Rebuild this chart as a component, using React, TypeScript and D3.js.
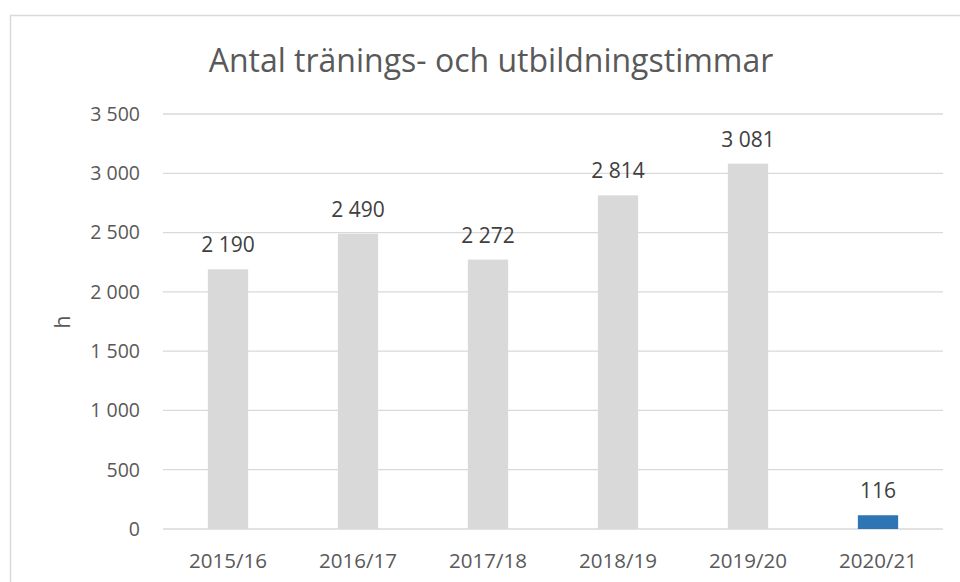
import React from 'react';
import * as d3 from 'd3';

// chart data
const years = ['2015/16', '2016/17', '2017/18', '2018/19', '2019/20', '2020/21'];
const hours = [2190, 2490, 2272, 2814, 3081, 116];
const yTicks = [0, 500, 1000, 1500, 2000, 2500, 3000, 3500];
const title = 'Antal tränings- och utbildningstimmar';
const yLabel = 'h';

const width = 960;
const height = 582;
const plot = { left: 163, right: 943, top: 114, bottom: 529 };

const sv = d3.formatLocale({ decimal: ',', thousands: ' ', grouping: [3], currency: ['', ''] });
const fmt = sv.format(',d');

const font = '"Open Sans", "Noto Sans", sans-serif';

export default function App() {
  const x = d3.scaleBand<string>()
    .domain(years)
    .range([plot.left, plot.right])
    .paddingInner(0.69)
    .paddingOuter(0.345);

  const y = d3.scaleLinear()
    .domain([0, 3500])
    .range([plot.bottom, plot.top]);

  return (
    <svg width={width} height={height} style={{ position: 'absolute', left: 0, top: 0, background: '#fff' }}>
      {/* chart border, cropped at right and bottom */}
      <rect x={10.5} y={15.5} width={width} height={height} fill="#fff" stroke="#d9d9d9" strokeWidth={1.5} />

      <text x={491} y={72} textAnchor="middle" fontFamily={font} fontSize={32} fill="#595959">
        {title}
      </text>

      {/* gridlines */}
      {yTicks.map(t => (
        <line key={t} x1={plot.left} x2={plot.right} y1={y(t)} y2={y(t)} stroke="#d9d9d9" strokeWidth={1.3} />
      ))}

      {/* y tick labels */}
      {yTicks.map(t => (
        <text key={'l' + t} x={140} y={y(t)} dy="0.35em" textAnchor="end" fontFamily={font} fontSize={19.5} fill="#595959">
          {fmt(t)}
        </text>
      ))}

      <text transform={`translate(63,322) rotate(-90)`} textAnchor="middle" dy="0.35em" fontFamily={font} fontSize={21} fill="#595959">
        {yLabel}
      </text>

      {/* bars */}
      {years.map((yr, i) => (
        <rect key={yr} x={x(yr)} y={y(hours[i])} width={x.bandwidth()} height={y(0) - y(hours[i])}
          fill={i === years.length - 1 ? '#2e75b6' : '#d9d9d9'} />
      ))}

      {/* data labels */}
      {years.map((yr, i) => (
        <text key={'v' + yr} x={(x(yr) as number) + x.bandwidth() / 2} y={y(hours[i]) - 17}
          textAnchor="middle" fontFamily={font} fontSize={21} fill="#404040">
          {fmt(hours[i])}
        </text>
      ))}

      {/* x labels */}
      {years.map(yr => (
        <text key={'x' + yr} x={(x(yr) as number) + x.bandwidth() / 2} y={568}
          textAnchor="middle" fontFamily={font} fontSize={20.5} fill="#595959">
          {yr}
        </text>
      ))}
    </svg>
  );
}
